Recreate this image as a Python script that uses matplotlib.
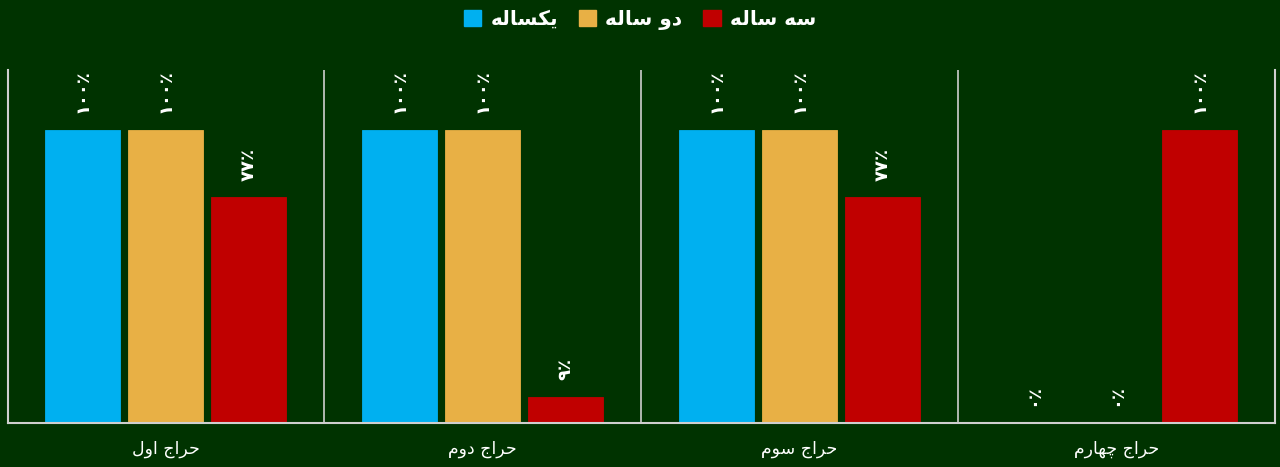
import matplotlib
matplotlib.use("Agg")
import matplotlib.pyplot as plt
import numpy as np
from matplotlib.patches import Patch

# ---- data ----
categories = ["حراج اول", "حراج دوم", "حراج سوم", "حراج چهارم"]
series_names = ["یکساله", "دو ساله", "سه ساله"]
one_year = [100, 100, 100, 0]
two_year = [100, 100, 100, 0]
three_year = [77, 9, 77, 100]
series_values = [one_year, two_year, three_year]
colors = ["#00B0F0", "#E8B045", "#C00000"]

# ---- minimal Arabic/Persian shaping (no shaping engine in matplotlib) ----
FORMS = {  # iso, final, initial, medial
    "ا": ("\uFE8D", "\uFE8E", None, None),
    "د": ("\uFEA9", "\uFEAA", None, None),
    "ر": ("\uFEAD", "\uFEAE", None, None),
    "و": ("\uFEED", "\uFEEE", None, None),
    "ج": ("\uFE9D", "\uFE9E", "\uFE9F", "\uFEA0"),
    "ح": ("\uFEA1", "\uFEA2", "\uFEA3", "\uFEA4"),
    "س": ("\uFEB1", "\uFEB2", "\uFEB3", "\uFEB4"),
    "ل": ("\uFEDD", "\uFEDE", "\uFEDF", "\uFEE0"),
    "م": ("\uFEE1", "\uFEE2", "\uFEE3", "\uFEE4"),
    "ه": ("\uFEE9", "\uFEEA", "\uFEEB", "\uFEEC"),
    "ی": ("\uFBFC", "\uFBFD", "\uFBFE", "\uFBFF"),
    "ک": ("\uFB8E", "\uFB8F", "\uFB90", "\uFB91"),
    "چ": ("\uFB7A", "\uFB7B", "\uFB7C", "\uFB7D"),
}


def shape(text):
    out = []
    n = len(text)
    for i, ch in enumerate(text):
        if ch not in FORMS:
            out.append(ch)
            continue
        f = FORMS[ch]
        prev = text[i - 1] if i > 0 else None
        nxt = text[i + 1] if i < n - 1 else None
        j_prev = prev in FORMS and FORMS[prev][2] is not None
        j_next = f[2] is not None and nxt in FORMS
        if j_prev and j_next:
            out.append(f[3])
        elif j_prev:
            out.append(f[1])
        elif j_next:
            out.append(f[2])
        else:
            out.append(f[0])
    return "".join(out)[::-1]


FA_DIGITS = "۰۱۲۳۴۵۶۷۸۹"


def fa_pct(v):
    return "".join(FA_DIGITS[int(d)] for d in str(int(v))) + "٪"


BG = "#003300"
GRID = "#CFCFCF"
FONT = ["DejaVu Sans"]

fig = plt.figure(figsize=(12.8, 4.67), dpi=100, facecolor=BG)
ax = fig.add_axes([7.5 / 1280, 1 - 423 / 467, 1267 / 1280, 353 / 467])
ax.set_facecolor(BG)

x = np.arange(len(categories))
spacing = 0.262
width = 0.237
for k, (vals, col, name) in enumerate(zip(series_values, colors, series_names)):
    pos = x + (k - 1) * spacing
    bars = ax.bar(pos, vals, width=width, color=col, edgecolor=col, linewidth=0.6, zorder=2)
    for b, v in zip(bars, vals):
        ax.annotate(fa_pct(v), (b.get_x() + b.get_width() / 2, v),
                    xytext=(0, 12), textcoords="offset points",
                    ha="center", va="bottom", rotation=90,
                    color="white", fontsize=13, fontweight="bold", family=FONT)

ax.set_xlim(-0.5, len(categories) - 0.5)
ax.set_ylim(0, 120.5)
ax.spines["top"].set_visible(False)
for s in ["left", "right", "bottom"]:
    ax.spines[s].set_color(GRID)
    ax.spines[s].set_linewidth(1.5)
for sep in x[:-1] + 0.5:
    ax.axvline(sep, color=GRID, linewidth=1.2, zorder=1)

ax.set_yticks([])
ax.set_xticks(x)
ax.set_xticklabels([shape(c) for c in categories], color="white", fontsize=12.5, family=FONT)
ax.tick_params(axis="x", length=0, pad=12)

handles = [Patch(facecolor=c, edgecolor=c) for c in colors]
leg = fig.legend(handles, [shape(s) for s in series_names], loc="center",
                 bbox_to_anchor=(0.5, 1 - 20 / 467), ncol=3, frameon=False,
                 handlelength=0.85, handleheight=0.85, handletextpad=0.45, columnspacing=1.05,
                 prop={"family": FONT, "size": 14.5, "weight": "bold"})
for t in leg.get_texts():
    t.set_color("white")

fig.savefig("out.png", dpi=100, facecolor=BG)
